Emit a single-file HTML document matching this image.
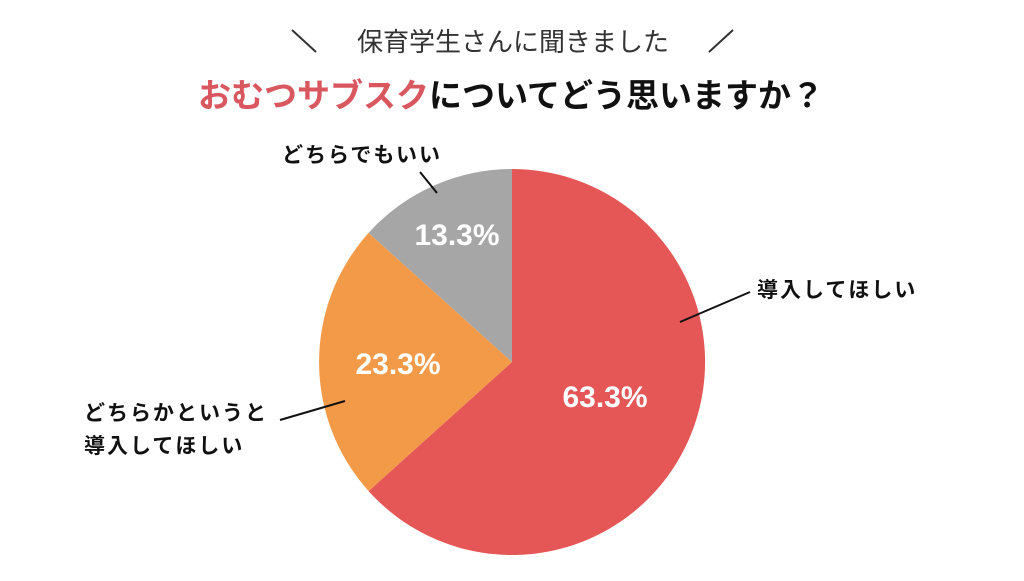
<!DOCTYPE html>
<html><head><meta charset="utf-8"><style>
body{margin:0;background:#fff;}
svg text{font-family:"Liberation Sans","Noto Sans CJK JP",sans-serif;}
</style></head><body>
<svg width="1024" height="576" viewBox="0 0 1024 576" xmlns="http://www.w3.org/2000/svg">
<rect width="1024" height="576" fill="#fff"/>
<line x1="292" y1="30" x2="316" y2="52" stroke="#333" stroke-width="2"/>
<line x1="733" y1="30" x2="709" y2="52" stroke="#333" stroke-width="2"/>
<text x="513" y="51" font-size="26" fill="#333" text-anchor="middle">保育学生さんに聞きました</text>
<text x="511" y="107" font-size="33" font-weight="bold" text-anchor="middle"><tspan fill="#D9575F">おむつサブスク</tspan><tspan fill="#111">についてどう思いますか？</tspan></text>
<g transform="translate(512,362)">
<path d="M0,0 L0,-193 A193,193 0 1 1 -143.4,129.1 Z" fill="#E55656"/>
<path d="M0,0 L-143.4,129.1 A193,193 0 0 1 -143.4,-129.1 Z" fill="#F39A48"/>
<path d="M0,0 L-143.4,-129.1 A193,193 0 0 1 0,-193 Z" fill="#A6A6A6"/>
</g>
<g fill="#fff" font-size="30" font-weight="bold" text-anchor="middle">
<text x="605" y="407">63.3%</text>
<text x="398" y="374">23.3%</text>
<text x="457" y="245">13.3%</text>
</g>
<g stroke="#111" stroke-width="2">
<line x1="420" y1="172" x2="437" y2="193"/>
<line x1="680" y1="322" x2="750" y2="292"/>
<line x1="280" y1="420" x2="345" y2="401"/>
</g>
<g fill="#111" font-size="21" font-weight="bold" letter-spacing="2">
<text x="282" y="162">どちらでもいい</text>
<text x="757" y="297">導入してほしい</text>
<text x="84" y="420">どちらかというと</text>
<text x="84" y="453">導入してほしい</text>
</g>
</svg>
</body></html>
